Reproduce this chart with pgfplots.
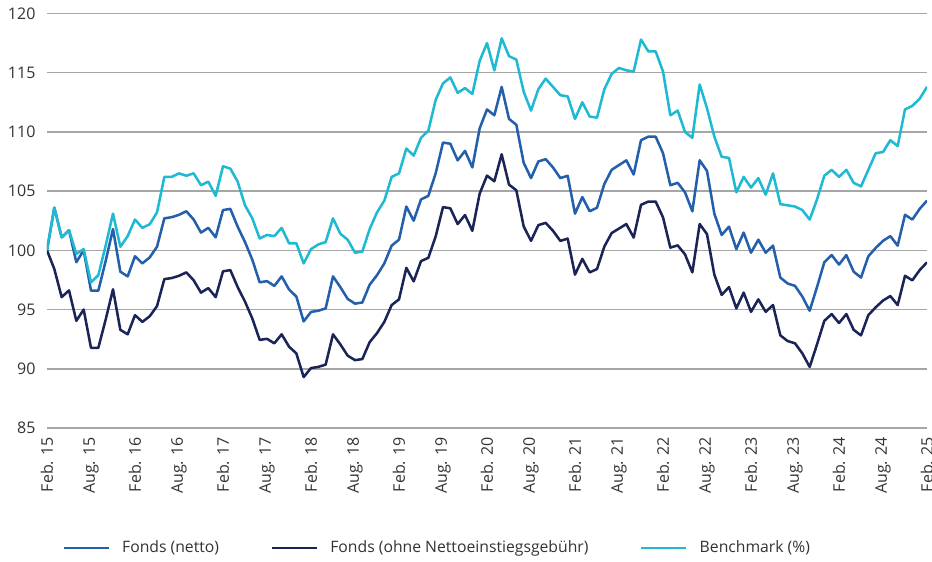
\documentclass[border=0pt]{standalone}
\usepackage{pgfplots}
\pgfplotsset{compat=1.18}
\usepackage{pgfplotstable}
\usepackage{fontspec}
\setmainfont{Open Sans}
\definecolor{netto}{HTML}{235FAA}
\definecolor{ohne}{HTML}{1A2456}
\definecolor{bench}{HTML}{1EB9D2}
\definecolor{gridc}{HTML}{A6A6A6}
\definecolor{txt}{HTML}{333333}
\pgfplotstableread{
i netto ohne bench
0 100.0 100.00 100.0
1 103.6 98.42 103.6
2 101.1 96.05 101.1
3 101.7 96.62 101.7
4 99.0 94.05 99.7
5 100.0 95.00 100.1
6 96.6 91.77 97.3
7 96.6 91.77 97.9
8 99.1 94.15 100.4
9 101.8 96.71 103.1
10 98.2 93.29 100.3
11 97.8 92.91 101.2
12 99.5 94.53 102.6
13 98.9 93.96 101.9
14 99.4 94.43 102.2
15 100.3 95.29 103.2
16 102.7 97.57 106.2
17 102.8 97.66 106.2
18 103.0 97.85 106.5
19 103.3 98.14 106.3
20 102.6 97.47 106.5
21 101.5 96.43 105.5
22 101.9 96.81 105.8
23 101.1 96.05 104.6
24 103.4 98.23 107.1
25 103.5 98.33 106.9
26 102.0 96.90 105.8
27 100.7 95.67 103.8
28 99.2 94.24 102.7
29 97.3 92.44 101.0
30 97.4 92.53 101.3
31 97.0 92.15 101.2
32 97.8 92.91 101.9
33 96.7 91.87 100.6
34 96.1 91.30 100.6
35 94.0 89.30 98.9
36 94.8 90.06 100.1
37 94.9 90.16 100.5
38 95.1 90.35 100.7
39 97.8 92.91 102.7
40 96.9 92.06 101.4
41 95.9 91.11 100.9
42 95.5 90.73 99.8
43 95.6 90.82 99.9
44 97.1 92.25 101.8
45 97.9 93.01 103.2
46 98.9 93.96 104.2
47 100.4 95.38 106.2
48 100.9 95.86 106.5
49 103.7 98.52 108.6
50 102.5 97.38 108.0
51 104.3 99.09 109.5
52 104.6 99.37 110.1
53 106.5 101.18 112.7
54 109.1 103.65 114.1
55 109.0 103.55 114.6
56 107.6 102.22 113.3
57 108.4 102.98 113.7
58 107.0 101.65 113.2
59 110.3 104.79 116.0
60 111.9 106.31 117.5
61 111.4 105.83 115.2
62 113.8 108.11 117.9
63 111.1 105.55 116.4
64 110.6 105.07 116.1
65 107.4 102.03 113.4
66 106.1 100.80 111.8
67 107.5 102.13 113.6
68 107.7 102.32 114.5
69 107.0 101.65 113.8
70 106.1 100.80 113.1
71 106.3 100.99 113.0
72 103.1 97.95 111.1
73 104.5 99.28 112.5
74 103.3 98.14 111.3
75 103.6 98.42 111.2
76 105.6 100.32 113.6
77 106.8 101.46 114.9
78 107.2 101.84 115.4
79 107.6 102.22 115.2
80 106.4 101.08 115.1
81 109.3 103.84 117.8
82 109.6 104.12 116.8
83 109.6 104.12 116.8
84 108.2 102.79 115.1
85 105.5 100.23 111.4
86 105.7 100.42 111.8
87 104.9 99.66 110.0
88 103.3 98.14 109.5
89 107.6 102.22 114.0
90 106.7 101.37 112.0
91 103.1 97.95 109.6
92 101.3 96.24 107.9
93 102.0 96.90 107.8
94 100.1 95.10 104.9
95 101.5 96.43 106.2
96 99.8 94.81 105.3
97 100.9 95.86 106.1
98 99.8 94.81 104.7
99 100.4 95.38 106.5
100 97.7 92.82 103.9
101 97.2 92.34 103.8
102 97.0 92.15 103.7
103 96.1 91.30 103.4
104 94.9 90.16 102.6
105 96.9 92.06 104.3
106 99.0 94.05 106.3
107 99.6 94.62 106.8
108 98.8 93.86 106.2
109 99.6 94.62 106.8
110 98.2 93.29 105.7
111 97.7 92.82 105.4
112 99.5 94.53 106.8
113 100.2 95.19 108.2
114 100.8 95.76 108.3
115 101.2 96.14 109.3
116 100.4 95.38 108.8
117 103.0 97.85 111.9
118 102.6 97.47 112.2
119 103.5 98.33 112.8
120 104.2 98.99 113.8
}\datatable
\begin{document}
\begin{tikzpicture}
\path[use as bounding box] (-35.25pt,-99.75pt) rectangle (663.75pt,321pt);
\begin{axis}[
  at={(0pt,0pt)}, anchor=origin,
  scale only axis,
  width=660pt, height=310.9pt,
  xmin=0, xmax=120, ymin=85, ymax=120,
  ytick={85,90,...,120},
  xtick={0,6,...,120},
  xticklabels={Feb. 15,Aug. 15,Feb. 16,Aug. 16,Feb. 17,Aug. 17,Feb. 18,Aug. 18,Feb. 19,Aug. 19,Feb. 20,Aug. 20,Feb. 21,Aug. 21,Feb. 22,Aug. 22,Feb. 23,Aug. 23,Feb. 24,Aug. 24,Feb. 25},
  axis line style={draw=none},
  major tick length=0pt,
  tick style={draw=none},
  ymajorgrids,
  major grid style={gridc, line width=1.1pt},
  /pgf/number format/assume math mode=true,
  tick label style={font=\fontsize{12}{14}\selectfont, text=txt},
  yticklabel style={anchor=east, inner sep=0pt, xshift=-8.5pt},
  xticklabel style={rotate=90, anchor=east, inner sep=6.5pt},
  legend columns=3,
  legend style={at={(axis description cs:0.017,-0.2894)}, anchor=west, draw=none, fill=none,
    inner sep=0pt, font=\fontsize{11.8}{14}\selectfont, text=txt,
    nodes={inner sep=0pt},
    /tikz/every odd column/.append style={column sep=9pt},
    /tikz/every even column/.append style={column sep=38.5pt}},
  legend image code/.code={\draw[#1, line width=2.2pt] (0pt,0pt) -- (33.75pt,0pt);},
]
\addplot[netto, line width=1.9pt, line join=round] table[x=i, y=netto] {\datatable};
\addlegendentry{Fonds (netto)}
\addplot[ohne, line width=1.9pt, line join=round] table[x=i, y=ohne] {\datatable};
\addlegendentry{Fonds (ohne Nettoeinstiegsgebühr)}
\addplot[bench, line width=1.9pt, line join=round] table[x=i, y=bench] {\datatable};
\addlegendentry{Benchmark (\%)}
\end{axis}
\end{tikzpicture}
\end{document}
